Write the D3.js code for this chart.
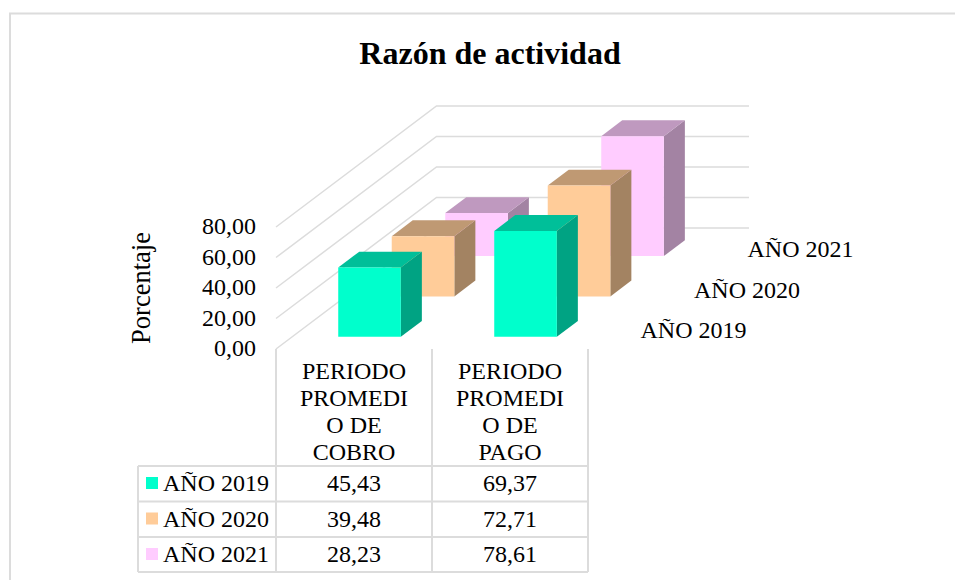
<!DOCTYPE html>
<html><head><meta charset="utf-8">
<script src="https://cdnjs.cloudflare.com/ajax/libs/d3/7.8.5/d3.min.js"></script>
<style>html,body{margin:0;padding:0;background:#fff;overflow:hidden}svg{display:block}
text{font-family:"Liberation Serif","Times New Roman",serif;fill:#000}</style></head><body>
<svg id="c" width="955" height="580"></svg>
<script>
const title = "Razón de actividad";
const yTitle = "Porcentaje";
const categories = ["PERIODO PROMEDIO DE COBRO", "PERIODO PROMEDIO DE PAGO"];
const categoryLines = [["PERIODO","PROMEDI","O DE","COBRO"],["PERIODO","PROMEDI","O DE","PAGO"]];
const seriesNames = ["AÑO 2019","AÑO 2020","AÑO 2021"];
const values2019 = [45.43, 69.37];
const values2020 = [39.48, 72.71];
const values2021 = [28.23, 78.61];
const seriesValues = [values2019, values2020, values2021];
const seriesColors = ["#00FFCC","#FFCC99","#FFCCFF"];
const yTicks = [0,20,40,60,80];
const fmt = v => v.toFixed(2).replace(".", ",");

const svg = d3.select("#c");
const GRID = "#dcdcdc", FS = 24;

// oblique projection: front floor origin + depth vector
const front = {left:276, right:588, bottom:349};
const depthVec = {dx:160.5, dy:-121};
const x = d3.scaleBand().domain(categories).range([front.left, front.right]);
const y = d3.scaleLinear().domain([0,80]).range([front.bottom, front.bottom-122]);
const z = d3.scaleBand().domain(seriesNames).range([0,1]);
const barW = 62.6, barD = 0.131, barShift = -0.7; // bar width (px), depth (fraction of floor depth), nudge
const P = (px, v, d) => [px + d*depthVec.dx, y(v) + d*depthVec.dy];
const line = d3.line();

// frame
svg.append("path").attr("d", "M10,580V13.5H955").attr("fill","none").attr("stroke",GRID).attr("stroke-width",2);

// title
svg.append("text").attr("x",490).attr("y",64).attr("text-anchor","middle")
  .attr("font-size",32).attr("font-weight","bold").text(title);

// walls gridlines
const walls = svg.append("g").attr("fill","none").attr("stroke",GRID).attr("stroke-width",1.5);
yTicks.forEach(t=>{
  walls.append("path").attr("d", line([P(front.left,t,0),P(front.left,t,1),[749,y(t)+depthVec.dy]]));
});

// bars, back to front
[...seriesNames.keys()].reverse().forEach(si=>{
  const name = seriesNames[si], col = d3.color(seriesColors[si]);
  const shade = k => d3.rgb(col.r*k, col.g*k, col.b*k).formatHex();
  const d0 = z(name) + (z.bandwidth()-barD)/2, d1 = d0+barD;
  categories.forEach((c,ci)=>{
    const v = seriesValues[si][ci];
    const x0 = x(c) + (x.bandwidth()-barW)/2 + barShift, x1 = x0+barW;
    const g = svg.append("g");
    const poly = (pts,fill)=>g.append("path").attr("d",line(pts)+"Z").attr("fill",fill);
    poly([P(x1,0,d0),P(x1,0,d1),P(x1,v,d1),P(x1,v,d0)], shade(.64));
    poly([P(x0,v,d0),P(x1,v,d0),P(x1,v,d1),P(x0,v,d1)], shade(.75));
    poly([P(x0,0,d0),P(x1,0,d0),P(x1,v,d0),P(x0,v,d0)], shade(1));
  });
});

// value axis
const yAxis = svg.append("g").attr("transform","translate(256,-1)")
  .call(d3.axisLeft(y).tickValues(yTicks).tickFormat(fmt).tickSize(0).tickPadding(0));
yAxis.select(".domain").remove();
yAxis.selectAll("text").attr("font-size",FS).attr("dy","0.32em").style("font-family",'"Liberation Serif"').attr("fill","#000");

svg.append("text").attr("transform","translate(150,288) rotate(-90)").attr("text-anchor","middle")
  .attr("font-size",26.5).text(yTitle);

// depth axis labels
seriesNames.forEach((n,i)=>{
  svg.append("text").attr("x",640.5+i*53.5).attr("y",338-i*40.3).attr("font-size",FS).text(n);
});

// data table
const tableLeft = 138, rowY = [466,501.5,537,572];
const t = svg.append("g").attr("fill","none").attr("stroke",GRID).attr("stroke-width",2);
rowY.forEach(r=>t.append("path").attr("d",`M${tableLeft},${r}H${front.right}`));
t.append("path").attr("d",`M${tableLeft},${rowY[0]}V${rowY[3]}`);
[...categories.map(c=>x(c)), front.right].forEach(px=>t.append("path").attr("d",`M${px},349V${rowY[3]}`));

categories.forEach((c,ci)=>{
  const cx = x(c)+x.bandwidth()/2;
  categoryLines[ci].forEach((l,li)=>svg.append("text").attr("x",cx).attr("y",378.5+li*27.2)
    .attr("text-anchor","middle").attr("font-size",FS).text(l));
  seriesNames.forEach((n,si)=>svg.append("text").attr("x",cx).attr("y",rowY[si]+25)
    .attr("text-anchor","middle").attr("font-size",FS).text(fmt(seriesValues[si][ci])));
});
seriesNames.forEach((n,si)=>{
  svg.append("rect").attr("x",146).attr("y",rowY[si]+11).attr("width",12).attr("height",12).attr("fill",seriesColors[si]);
  svg.append("text").attr("x",163).attr("y",rowY[si]+25).attr("font-size",FS).text(n);
});
</script></body></html>
